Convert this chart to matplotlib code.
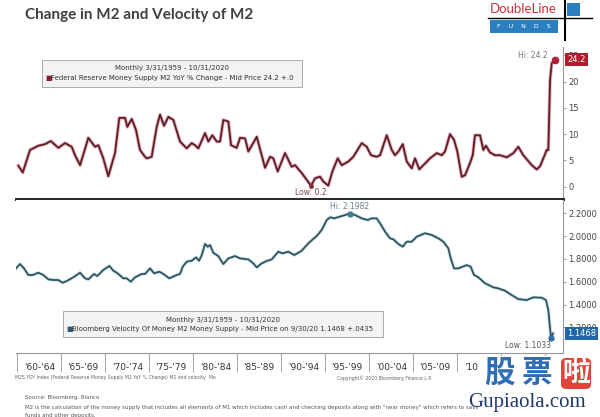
import matplotlib
matplotlib.use("Agg")
import matplotlib.pyplot as plt
from matplotlib.patches import Rectangle, FancyBboxPatch
from matplotlib.lines import Line2D

W, H = 600, 417

# M2 YoY % change
m2_years = [1960.13, 1960.63, 1961.45, 1962.40, 1963.16, 1963.81, 1964.67, 1965.43,
            1966.19, 1966.57, 1967.14, 1968.08, 1968.84, 1969.22, 1969.78, 1970.35,
            1971.11, 1971.60, 1972.25, 1972.51, 1973.01, 1973.50, 1973.95, 1974.52,
            1974.72, 1975.28, 1975.85, 1976.23, 1976.68, 1977.17, 1977.74, 1978.50,
            1979.26, 1979.83, 1980.20, 1980.58, 1981.34, 1981.72, 1982.17, 1982.67,
            1983.05, 1983.42, 1983.99, 1984.30, 1984.94, 1985.32, 1985.89, 1986.26,
            1987.22, 1988.16, 1988.73, 1989.10, 1989.60, 1990.43, 1991.19, 1991.57,
            1992.33, 1992.90, 1993.39, 1993.84, 1994.41, 1994.78, 1995.35, 1995.81,
            1996.42, 1996.88, 1997.63, 1998.19, 1999.15, 1999.72, 2000.20, 2000.85,
            2001.23, 2001.99, 2002.56, 2002.93, 2003.31, 2003.81, 2004.26, 2004.83,
            2005.20, 2005.69, 2006.15, 2006.91, 2007.67, 2008.24, 2008.61, 2009.18,
            2009.64, 2010.01, 2010.51, 2010.89, 2011.45, 2011.76, 2012.02, 2012.59,
            2012.97, 2013.27, 2013.73, 2014.30, 2014.86, 2015.63, 2016.38, 2016.94,
            2017.51, 2018.47, 2019.03, 2019.41, 2019.86, 2020.17, 2020.35, 2020.55,
            2020.74, 2021.11]
m2_values = [4.0, 2.7, 7.0, 7.8, 8.1, 8.7, 7.4, 8.3,
             7.6, 6.0, 4.1, 9.3, 7.6, 7.9, 5.4, 2.0,
             6.4, 13.1, 13.1, 11.4, 12.9, 10.8, 7.0, 5.7,
             5.4, 5.7, 11.4, 13.7, 11.6, 13.3, 12.7, 8.6,
             7.3, 8.3, 7.9, 7.3, 10.2, 8.6, 9.8, 8.6,
             8.6, 12.7, 12.4, 7.9, 7.4, 9.3, 9.2, 6.7,
             9.5, 3.6, 5.7, 5.4, 2.9, 6.4, 3.8, 4.1,
             2.6, 1.3, 0.2, 1.6, 1.9, 1.0, 0.2, 2.9,
             5.4, 4.1, 4.8, 5.7, 8.3, 7.6, 6.0, 5.7,
             6.0, 9.8, 7.0, 6.0, 6.7, 8.1, 4.8, 3.5,
             5.4, 3.3, 4.1, 5.4, 6.4, 6.0, 6.7, 10.0,
             8.9, 6.7, 1.9, 2.2, 4.5, 6.0, 9.8, 9.8,
             7.0, 7.8, 6.5, 6.0, 6.0, 5.6, 6.4, 7.6,
             6.0, 4.1, 3.3, 3.9, 5.7, 7.0, 7.0, 20.3,
             23.5, 24.2]

# Velocity of M2
vel_years = [1959.86, 1960.32, 1960.77, 1961.26, 1961.76, 1962.40, 1962.97, 1963.53,
             1964.10, 1964.67, 1965.17, 1965.69, 1966.38, 1967.14, 1967.70, 1968.08,
             1968.73, 1969.10, 1969.78, 1970.47, 1970.92, 1971.31, 1972.06, 1972.44,
             1972.90, 1973.39, 1974.15, 1974.52, 1975.09, 1975.55, 1976.15, 1976.60,
             1977.28, 1978.13, 1978.50, 1978.81, 1979.26, 1979.83, 1980.32, 1980.66,
             1980.97, 1981.34, 1981.65, 1981.91, 1982.28, 1982.85, 1983.42, 1983.99,
             1984.75, 1985.32, 1986.26, 1986.83, 1987.22, 1987.78, 1988.35, 1988.92,
             1989.67, 1990.13, 1990.81, 1991.49, 1992.33, 1993.08, 1994.03, 1994.60,
             1995.17, 1995.55, 1996.03, 1996.88, 1997.82, 1998.39, 1999.15, 1999.83,
             2000.28, 2000.85, 2001.42, 2001.80, 2002.36, 2002.74, 2003.31, 2003.81,
             2004.26, 2004.83, 2005.40, 2006.34, 2007.10, 2007.85, 2008.42, 2008.99,
             2009.26, 2009.64, 2010.13, 2011.08, 2011.53, 2011.91, 2012.40, 2013.16,
             2014.10, 2014.67, 2015.43, 2016.19, 2016.94, 2017.90, 2018.65, 2019.60,
             2020.09, 2020.35, 2020.66, 2020.89]
vel_values = [1.717, 1.755, 1.717, 1.659, 1.659, 1.679, 1.659, 1.621,
              1.615, 1.615, 1.591, 1.609, 1.639, 1.679, 1.630, 1.621,
              1.668, 1.650, 1.703, 1.738, 1.697, 1.679, 1.630, 1.630,
              1.600, 1.639, 1.668, 1.668, 1.717, 1.674, 1.688, 1.668,
              1.630, 1.659, 1.668, 1.732, 1.776, 1.784, 1.814, 1.784,
              1.834, 1.931, 1.907, 1.922, 1.854, 1.825, 1.755, 1.805,
              1.825, 1.805, 1.796, 1.761, 1.726, 1.761, 1.782, 1.796,
              1.863, 1.849, 1.863, 1.834, 1.872, 1.937, 2.001, 2.054,
              2.141, 2.165, 2.156, 2.176, 2.1982, 2.185, 2.156, 2.141,
              2.156, 2.156, 2.089, 2.039, 1.981, 1.972, 1.931, 1.907,
              1.951, 1.951, 1.995, 2.025, 2.010, 1.981, 1.951, 1.893,
              1.805, 1.717, 1.717, 1.746, 1.732, 1.659, 1.639, 1.586,
              1.551, 1.542, 1.521, 1.483, 1.448, 1.439, 1.463, 1.460,
              1.439, 1.352, 1.1033, 1.1468]

period_starts = [1960, 1965, 1970, 1975, 1980, 1985, 1990, 1995, 2000, 2005, 2010, 2015, 2020]
period_labels = ["'60-'64", "'65-'69", "'70-'74", "'75-'79", "'80-'84", "'85-'89",
                 "'90-'94", "'95-'99", "'00-'04", "'05-'09", "'10-'14", "'15-'19"]
m2_ticks = [0, 5, 10, 15, 20, 25]
vel_ticks = [1.2, 1.4, 1.6, 1.8, 2.0, 2.2]


def fx(x):
    return x / W


def fy(y):
    return 1 - y / H


fig = plt.figure(figsize=(6, 4.17), dpi=100)
fig.patch.set_facecolor("white")

ax1 = fig.add_axes([fx(16), fy(199), (563 - 16) / W, (199 - 47) / H])
ax2 = fig.add_axes([fx(16), fy(353), (563 - 16) / W, (353 - 200) / H])

xmin, xmax = 1959.86, 2022.02

# ---- top panel: M2 YoY
ax1.plot(m2_years, m2_values, color="#d0505e", lw=2.6, alpha=0.45, solid_joinstyle="round")
ax1.plot(m2_years, m2_values, color="#5a1f2a", lw=1.3, solid_joinstyle="round")
ax1.set_xlim(xmin, xmax)
ax1.set_ylim(-2.34, 26.6)
ax1.set_xticks([])
ax1.yaxis.tick_right()
ax1.set_yticks(m2_ticks)
ax1.tick_params(axis="y", length=2, width=0.6, color="#888888", pad=2,
                labelsize=6, labelcolor="#444444")
for s in ["top", "left"]:
    ax1.spines[s].set_visible(False)
ax1.spines["right"].set_color("#999999")
ax1.spines["right"].set_linewidth(0.8)
ax1.spines["bottom"].set_color("#2b2b2b")
ax1.spines["bottom"].set_linewidth(2.2)

i_hi = m2_values.index(max(m2_values))
i_lo = m2_values.index(min(m2_values))
ax1.plot(m2_years[-1], m2_values[-1], "o", color="#b0203a", ms=4.5)
ax1.plot(m2_years[i_lo], m2_values[i_lo], "o", color="#8a2a3a", ms=2.5)
ax1.annotate("Hi: 24.2", (m2_years[i_hi], m2_values[i_hi]), xytext=(-5, 3),
             textcoords="offset points", ha="right", va="center",
             fontsize=5.5, color="#777777")
ax1.annotate("Low: 0.2", (m2_years[i_lo], m2_values[i_lo]), xytext=(0, -5),
             textcoords="offset points", ha="center", va="center",
             fontsize=5.5, color="#7a4a4a")
ax1.annotate("24.2", (1, m2_values[-1]), xycoords=("axes fraction", "data"),
             xytext=(3, 0), textcoords="offset points", ha="left", va="center",
             fontsize=6, color="white",
             bbox=dict(boxstyle="square,pad=0.25", fc="#b01e2e", ec="none"),
             annotation_clip=False)

# ---- bottom panel: velocity
ax2.plot(vel_years, vel_values, color="#a8dde6", lw=2.6, alpha=0.6, solid_joinstyle="round")
ax2.plot(vel_years, vel_values, color="#36505c", lw=1.3, solid_joinstyle="round")
ax2.set_xlim(xmin, xmax)
ax2.set_ylim(0.975, 2.3167)
ax2.yaxis.tick_right()
ax2.set_yticks(vel_ticks)
ax2.set_yticklabels([f"{v:.4f}" for v in vel_ticks])
ax2.tick_params(axis="y", length=2, width=0.6, color="#888888", pad=2,
                labelsize=6, labelcolor="#444444")
ax2.set_xticks(period_starts)
ax2.set_xticklabels([])
ax2.tick_params(axis="x", which="major", direction="out", length=14, width=0.6,
                color="#999999")
ax2.set_xticks([p + 2.5 for p in period_starts[:-1]], minor=True)
ax2.set_xticklabels(period_labels, minor=True)
ax2.tick_params(axis="x", which="minor", length=0, pad=7, labelsize=6.5,
                labelcolor="#333333")
for s in ["top", "left"]:
    ax2.spines[s].set_visible(False)
ax2.spines["right"].set_color("#999999")
ax2.spines["right"].set_linewidth(0.8)
ax2.spines["bottom"].set_color("#999999")
ax2.spines["bottom"].set_linewidth(0.8)

j_hi = vel_values.index(max(vel_values))
j_lo = vel_values.index(min(vel_values))
ax2.plot(vel_years[j_hi], vel_values[j_hi], "o", color="#3c7f8f", ms=3.5)
ax2.plot(vel_years[j_lo], vel_values[j_lo], "o", color="#2a6fa8", ms=3.5)
ax2.annotate("Hi: 2.1982", (vel_years[j_hi], vel_values[j_hi]), xytext=(0, 5),
             textcoords="offset points", ha="center", va="center",
             fontsize=5.5, color="#6a8090")
ax2.annotate("Low: 1.1033", (vel_years[j_lo], vel_values[j_lo]), xytext=(0, -5),
             textcoords="offset points", ha="right", va="center",
             fontsize=5.5, color="#555555")
ax2.annotate("1.1468", (1, vel_values[-1]), xycoords=("axes fraction", "data"),
             xytext=(3, 0), textcoords="offset points", ha="left", va="center",
             fontsize=6, color="white",
             bbox=dict(boxstyle="square,pad=0.25", fc="#2067a8", ec="none"),
             annotation_clip=False)

# ---- legend boxes
fig.add_artist(Rectangle((fx(42), fy(87)), (302 - 42) / W, (87 - 60) / H,
                         transform=fig.transFigure, fc="#f3f3f3", ec="#aaaaaa", lw=0.7))
fig.text(fx(172), fy(68), "Monthly 3/31/1959 - 10/31/2020", ha="center", va="center",
         fontsize=5, color="#333333")
fig.text(fx(45), fy(78), "■", ha="left", va="center", fontsize=5, color="#8a1f30")
fig.text(fx(51), fy(78), "Federal Reserve Money Supply M2 YoY % Change - Mid Price 24.2 +.0",
         ha="left", va="center", fontsize=5, color="#333333")

fig.add_artist(Rectangle((fx(63), fy(337)), (383 - 63) / W, (337 - 311) / H,
                         transform=fig.transFigure, fc="#f3f3f3", ec="#aaaaaa", lw=0.7))
fig.text(fx(223), fy(320), "Monthly 3/31/1959 - 10/31/2020", ha="center", va="center",
         fontsize=5, color="#333333")
fig.text(fx(66), fy(329), "■", ha="left", va="center", fontsize=5, color="#2a5a78")
fig.text(fx(72), fy(329),
         "Bloomberg Velocity Of Money M2 Money Supply - Mid Price on 9/30/20 1.1468 +.0435",
         ha="left", va="center", fontsize=5, color="#333333")

# ---- title and logo
fig.text(fx(25), fy(15), "Change in M2 and Velocity of M2", ha="left", va="center",
         fontsize=11, fontweight="bold", family="Lato", color="#404040")
fig.text(fx(490), fy(9), "DoubleLine", ha="left", va="center", fontsize=9.5,
         family="Lato", color="#c8323a")
fig.add_artist(Line2D([fx(488), fx(592)], [fy(18), fy(18)], transform=fig.transFigure,
                      color="black", lw=1))
fig.add_artist(Line2D([fx(565), fx(565)], [fy(0), fy(40)], transform=fig.transFigure,
                      color="black", lw=1.5))
fig.add_artist(Rectangle((fx(490), fy(33)), 68 / W, 13 / H, transform=fig.transFigure,
                         fc="#2a7fc0", ec="none"))
fig.add_artist(Rectangle((fx(567), fy(16)), 13 / W, 13 / H, transform=fig.transFigure,
                         fc="#2a7fc0", ec="none"))
fig.text(fx(524), fy(27), "F    U    N    D    S", ha="center", va="center",
         fontsize=4.5, color="white")

# ---- footnotes
fig.text(fx(15), fy(378),
         "M2S YOY Index (Federal Reserve Money Supply M2 YoY % Change) M2 and velocity  Mo",
         ha="left", va="center", fontsize=3.3, color="#666666")
fig.text(fx(337), fy(378), "Copyright© 2020 Bloomberg Finance L.P.", ha="left",
         va="center", fontsize=3.3, color="#666666")
fig.text(fx(25), fy(398), "Source: Bloomberg, Bianco", ha="left", va="center",
         fontsize=4, color="#555555")
fig.text(fx(25), fy(407),
         "M2 is the calculation of the money supply that includes all elements of M1 which includes "
         "cash and checking deposits along with \"near money\" which refers to savings deposits, money",
         ha="left", va="center", fontsize=4, color="#555555")
fig.text(fx(25), fy(416), "funds and other deposits.", ha="left", va="center",
         fontsize=4, color="#555555")

# ---- watermark
fig.add_artist(Rectangle((fx(478), fy(417)), 122 / W, 61 / H, transform=fig.transFigure,
                         fc="white", ec="none", zorder=10))
for ch, cx in [("股", 499), ("票", 537)]:
    fig.text(fx(cx), fy(373), ch, ha="center", va="center", fontsize=22,
             fontweight="bold", family="Noto Sans CJK SC", color="#2f6db5", zorder=11)
fig.add_artist(FancyBboxPatch((fx(561), fy(389)), 30 / W, 31 / H,
                              boxstyle="round,pad=0,rounding_size=0.01",
                              transform=fig.transFigure, fc="#e0443a", ec="none", zorder=11))
fig.text(fx(576), fy(373), "啦", ha="center", va="center", fontsize=20,
         fontweight="bold", family="Noto Sans CJK SC", color="white", zorder=12)
fig.text(fx(527), fy(403), "Gupiaola.com", ha="center", va="center", fontsize=15,
         family="Liberation Serif", color="#1c3a6a", zorder=11)

fig.savefig("out.png", dpi=100)
